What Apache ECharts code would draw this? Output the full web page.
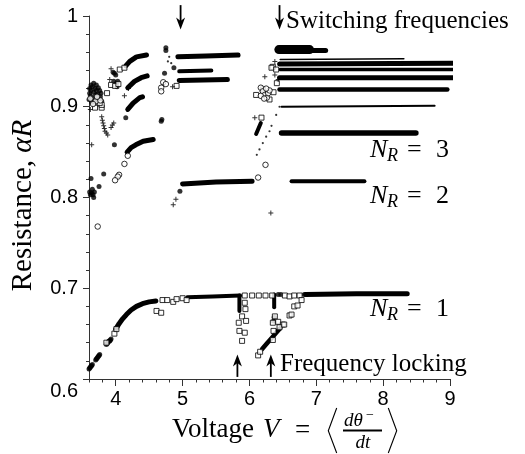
<!DOCTYPE html>
<html><head><meta charset="utf-8">
<script src="https://cdn.jsdelivr.net/npm/echarts@6/dist/echarts.min.js"></script>
<style>html,body{margin:0;padding:0;background:#fff}#c{width:525px;height:454px}</style>
</head><body><div id="c"></div>
<script>
// ---------- data ----------
const xTickValues = [4, 5, 6, 7, 8, 9];
const yTickValues = [0.6, 0.7, 0.8, 0.9, 1];

// dense runs of points (drawn as thick polylines)
const n1Curve = [[4.00,0.655],[4.05,0.661],[4.10,0.666],[4.16,0.671],[4.23,0.676],[4.31,0.680],[4.40,0.683],[4.50,0.685],[4.60,0.686]];
const n1BandLeft = [[5.07,0.690],[5.45,0.691],[5.86,0.692]];
const n1Dip1 = [[5.85,0.692],[5.85,0.675]];
const n1Dip2 = [[6.37,0.693],[6.37,0.679]];
const n1Rise = [[6.19,0.633],[6.27,0.640],[6.33,0.645],[6.40,0.651],[6.46,0.656]];
const n1BandRight = [[6.84,0.693],[7.60,0.694],[8.36,0.694]];
const n2Curve = [[4.17,0.850],[4.23,0.855],[4.30,0.858],[4.41,0.862],[4.56,0.864]];
const n2BandLeft = [[5.00,0.815],[5.50,0.817],[6.04,0.818]];
const n2BandRight = [[6.63,0.818],[7.72,0.818]];
const n3CurveLow = [[4.18,0.897],[4.26,0.904],[4.36,0.910],[4.40,0.911]];
const n3CurveMid = [[4.18,0.921],[4.28,0.928],[4.38,0.932],[4.47,0.934]];
const n3CurveTop = [[4.15,0.945],[4.21,0.950],[4.31,0.955],[4.46,0.957]];
const n3BandTopL = [[4.93,0.955],[5.35,0.956],[5.83,0.957]];
const n3BandMidL = [[4.95,0.939],[5.43,0.940]];
const n3BandLowL = [[4.95,0.929],[5.67,0.930]];
const hiBlob = [[6.44,0.963],[6.90,0.963]];
const hiBlobTail = [[6.90,0.962],[7.14,0.962]];
const hiThin = [[6.46,0.952],[8.31,0.953]];
const hiBandA = [[6.45,0.947],[9.05,0.948]];
const hiBandB = [[6.46,0.941],[9.04,0.941]];
const hiBandC = [[6.45,0.932],[9.05,0.932]];
const hiBandD = [[6.45,0.919],[8.96,0.919]];
const hiBandE = [[6.48,0.900],[8.77,0.901]];
const hiBandF = [[6.48,0.871],[8.49,0.871]];
const hiSlash = [[6.10,0.870],[6.17,0.882]];

// individual markers
const filledPts = [
 [3.60,0.611],[3.61,0.612],[3.62,0.613],[3.63,0.614],[3.64,0.615],[3.65,0.616],
 [3.70,0.621],[3.71,0.622],[3.72,0.623],[3.73,0.624],[3.74,0.625],[3.75,0.626],[3.76,0.627],
 [3.86,0.638],[3.87,0.639],[3.88,0.640],[3.89,0.641],[3.90,0.642],[3.91,0.642],[3.92,0.643],[3.93,0.644],
 [6.37,0.668],[6.36,0.664],[6.82,0.693],[6.47,0.693],[6.43,0.693],
 [3.98,0.858],[3.82,0.826],[3.75,0.812],[3.63,0.821],[3.65,0.809],[3.66,0.803],[3.68,0.806],[3.67,0.800],[3.64,0.805],[3.62,0.803],[3.61,0.806],[4.96,0.807],
 [3.61,0.920],[3.63,0.918],[3.65,0.922],[3.67,0.916],[3.69,0.920],[3.71,0.918],[3.62,0.912],[3.66,0.910],[3.70,0.913],[3.73,0.914],[3.74,0.921],[3.76,0.918],
 [3.64,0.905],[3.68,0.906],[3.72,0.908],[3.77,0.911],[3.75,0.903],[3.79,0.906],[3.61,0.915],[3.63,0.924],[3.71,0.924],[3.67,0.926],[3.60,0.908],[3.78,0.915],
 [3.96,0.938],[3.98,0.937],[4.00,0.935],[3.97,0.928],[4.01,0.926],[4.03,0.928],[4.02,0.922],
 [4.15,0.888],[4.75,0.965],[4.75,0.962],[4.87,0.943],[4.73,0.937],[4.68,0.884],[4.69,0.886]
];
const squarePts = [
 [3.98,0.650],[4.01,0.655],[3.86,0.640],[4.61,0.675],[4.68,0.673],
 [4.70,0.687],[4.77,0.687],[4.86,0.685],[4.91,0.688],[5.00,0.689],[5.06,0.687],
 [5.93,0.684],[5.94,0.677],[5.89,0.669],[5.84,0.662],[5.95,0.664],[5.85,0.653],[5.93,0.651],[5.89,0.642],
 [5.93,0.692],[6.04,0.692],[6.14,0.692],[6.24,0.692],[6.34,0.692],[6.53,0.692],[6.60,0.691],[6.67,0.692],[6.75,0.692],
 [6.35,0.662],[6.38,0.669],[6.43,0.663],[6.50,0.660],[6.45,0.657],[6.36,0.653],[6.35,0.643],
 [6.13,0.626],[6.16,0.630],[6.52,0.660],[6.60,0.670],[6.63,0.671],[6.67,0.680],[6.72,0.681],[6.78,0.687],
 [3.69,0.899],[3.79,0.899],[3.87,0.915],[3.79,0.902],[3.76,0.904],
 [3.93,0.924],[3.99,0.923],[4.04,0.925],[4.06,0.941],[4.13,0.943],[4.91,0.923],
 [6.35,0.944],[6.33,0.943],[6.40,0.941],[6.41,0.926],[6.10,0.913],[6.20,0.919],[6.30,0.908],[6.36,0.916],[6.18,0.888]
];
const circlePts = [
 [4.18,0.846],[4.13,0.837],[4.05,0.825],[4.03,0.823],[3.99,0.819],[3.73,0.768],[6.13,0.822],[6.24,0.836],
 [3.62,0.909],[3.70,0.906],[3.66,0.903],[3.77,0.907],[3.72,0.911],
 [4.71,0.927],[4.68,0.921],[4.68,0.917],[4.75,0.925],
 [6.17,0.921],[6.20,0.917],[6.23,0.913],[6.17,0.912],[6.26,0.910],[6.28,0.915],[6.22,0.909],[6.30,0.918],[6.25,0.920]
];
const plusPts = [
 [3.79,0.889],[3.80,0.885],[3.81,0.882],[3.82,0.879],[3.83,0.876],[3.84,0.873],[3.86,0.871],[3.88,0.869],
 [3.93,0.877],[3.95,0.880],[3.97,0.882],[3.64,0.858],[3.62,0.897],[3.91,0.930],[3.93,0.942],[4.13,0.912],[4.19,0.920],
 [4.85,0.922],[4.86,0.792],[4.90,0.798],
 [6.32,0.783],[6.38,0.950],[6.23,0.933],[6.43,0.930],[6.08,0.888],[6.38,0.935]
];
const dotPts = [
 [4.78,0.950],[4.83,0.948],[4.80,0.955],
 [6.45,0.900],[6.40,0.891],[6.33,0.879],[6.30,0.873],[6.25,0.867],[6.20,0.860],[6.15,0.853],[6.11,0.847]
];
const arrowDownV = [4.97, 6.45];
const arrowUpV = [5.82, 6.32];

// ---------- chart ----------
const chart = echarts.init(document.getElementById('c'), null, {renderer: 'canvas'});
const SERIF = '"Liberation Serif", "DejaVu Serif", serif';
const SANS = '"Liberation Sans", Arial, sans-serif';
const axisCol = '#333';

const bandStyles = [
 [n1Curve,5],[n1BandLeft,4],[n1Dip1,4],[n1Dip2,4],[n1Rise,4.5],[n1BandRight,5],
 [n2Curve,5],[n2BandLeft,5],[n2BandRight,4],
 [n3CurveLow,5],[n3CurveMid,5],[n3CurveTop,5],[n3BandTopL,5],[n3BandMidL,4],[n3BandLowL,5],
 [hiBlob,9],[hiBlobTail,5],[hiThin,1.5],[hiBandA,5],[hiBandB,3.5],[hiBandC,5],[hiBandD,4.5],[hiBandE,2],[hiBandF,5.5],[hiSlash,4]
];
const series = bandStyles.map(([d, w]) => ({
  type: 'line', data: d, showSymbol: false, symbol: 'none', clip: false, silent: true,
  lineStyle: {color: '#000', width: w, cap: 'round', join: 'round'}, z: 2
}));
const plusPath = 'path://M4,0H6V4H10V6H6V10H4V6H0V4H4Z';
series.push(
  {type:'scatter', data: filledPts, symbol:'circle', symbolSize:5, itemStyle:{color:'#000'}, silent:true, z:3, clip:false},
  {type:'scatter', data: squarePts, symbol:'rect', symbolSize:5, itemStyle:{color:'#fff', borderColor:'#000', borderWidth:1}, silent:true, z:4, clip:false},
  {type:'scatter', data: circlePts, symbol:'circle', symbolSize:5.5, itemStyle:{color:'#fff', borderColor:'#000', borderWidth:1}, silent:true, z:4, clip:false},
  {type:'scatter', data: plusPts, symbol:plusPath, symbolSize:5, itemStyle:{color:'#000'}, silent:true, z:4, clip:false},
  {type:'scatter', data: dotPts, symbol:'circle', symbolSize:2.2, itemStyle:{color:'#000'}, silent:true, z:4, clip:false}
);

chart.setOption({
  animation: false,
  backgroundColor: '#fff',
  grid: {left: 89, right: 75, top: 16, bottom: 75, containLabel: false, outerBoundsMode: 'none'},
  xAxis: [
    {type:'value', min:3.6, max:9, interval:0.2, position:'bottom',
     axisLine:{show:true, lineStyle:{color:axisCol, width:1}},
     axisTick:{show:true, length:3.5, lineStyle:{color:axisCol}},
     axisLabel:{show:false}, splitLine:{show:false}},
    {type:'value', min:3.6, max:9, position:'bottom',
     axisLine:{show:false},
     axisTick:{show:true, length:7, customValues:xTickValues, lineStyle:{color:axisCol}},
     axisLabel:{show:true, customValues:xTickValues, color:'#000', fontFamily:SANS, fontSize:20, margin:10},
     splitLine:{show:false}}
  ],
  yAxis: {type:'value', min:0.6, max:1, interval:0.1,
    axisLine:{show:true, lineStyle:{color:axisCol, width:1}},
    axisTick:{show:true, length:6, lineStyle:{color:axisCol}},
    minorTick:{show:true, splitNumber:5, length:3, lineStyle:{color:axisCol}},
    splitLine:{show:false}, minorSplitLine:{show:false},
    axisLabel:{color:'#000', fontFamily:SANS, fontSize:20, margin:11,
      formatter: v => {
        const s = String(+(+v).toFixed(2));
        return Math.abs(v - 0.6) < 1e-9 ? '{lo|' + s + '}' : s;
      },
      rich:{lo:{fontFamily:SANS, fontSize:20, color:'#000', padding:[24,0,0,0]}}},
    name:'{a|Resistance, }{b|αR}', nameLocation:'middle', nameRotate:90, nameGap:51,
    nameTextStyle:{padding:[0,16,0,0], rich:{a:{fontFamily:SERIF, fontSize:29, color:'#000'}, b:{fontFamily:SERIF, fontSize:29, fontStyle:'italic', color:'#000'}}}
  },
  series: series
});

function px(v, r) { return chart.convertToPixel({xAxisIndex:0, yAxisIndex:0}, [v, r]); }
const g = [];
function arrow(v, rTail, rTip) {
  const [x, y0] = px(v, rTail);
  const [, y1] = px(v, rTip);
  const d = y1 > y0 ? 1 : -1;
  g.push({type:'line', shape:{x1:x, y1:y0, x2:x, y2:y1 - d*6}, style:{stroke:'#000', lineWidth:1.8}, z:10});
  g.push({type:'polygon', shape:{points:[[x, y1],[x-4.5, y1 - d*12],[x, y1 - d*8.5],[x+4.5, y1 - d*12]]}, style:{fill:'#000'}, z:10});
}
arrowDownV.forEach(v => arrow(v, 1.012, 0.985));
arrowUpV.forEach(v => arrow(v, 0.6023, 0.627));

function txt(x, y, text, size, italic, align) {
  g.push({type:'text', x:x, y:y, z:10, style:{text:text, fill:'#000',
    font:(italic ? 'italic ' : '') + size + 'px ' + SERIF, align:align || 'left', verticalAlign:'middle'}});
}
txt(286, 21, 'Switching frequencies', 25);
txt(280, 364, 'Frequency locking', 25);
function nLabel(x0, yc, k) {
  txt(x0, yc, 'N', 26, true);
  txt(x0 + 17, yc + 6, 'R', 18, true);
  txt(x0 + 37, yc, '=', 26, false);
  txt(x0 + 66, yc, String(k), 26, false);
}
nLabel(370, 150, 3);
nLabel(370, 196, 2);
nLabel(370, 309, 1);
// x-axis title: Voltage V = < dθ⁻/dt >
txt(172, 430, 'Voltage', 27);
txt(263, 430, 'V', 27, true);
txt(295, 431, '=', 27);
g.push({type:'polyline', shape:{points:[[336.7,408],[328.3,430.7],[336.7,453]]}, style:{stroke:'#000', lineWidth:1.1, fill:null}, z:10});
g.push({type:'polyline', shape:{points:[[388.3,408],[396.7,430.7],[388.3,453]]}, style:{stroke:'#000', lineWidth:1.1, fill:null}, z:10});
txt(344, 421, 'dθ', 19, true);
txt(366, 415, '−', 14);
g.push({type:'line', shape:{x1:343, y1:430.5, x2:382, y2:430.5}, style:{stroke:'#000', lineWidth:2.2}, z:10});
txt(363, 443, 'dt', 19, true, 'center');
chart.setOption({graphic: g});
</script></body></html>
